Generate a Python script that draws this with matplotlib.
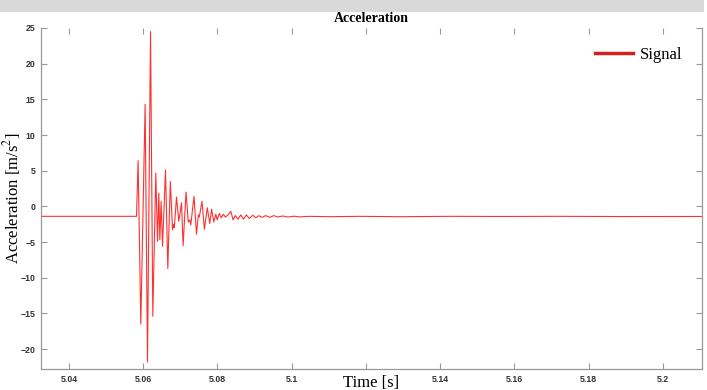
import matplotlib
matplotlib.use("Agg")
import matplotlib.pyplot as plt
from matplotlib.patches import Rectangle

plt.rcParams["mathtext.fontset"] = "stix"

# Data (time [s], acceleration [m/s^2])
time_s = [5.0325, 5.05642, 5.05822, 5.05865, 5.05938, 5.06054, 5.06118, 5.06199,
          5.06261, 5.06342, 5.06388, 5.06423, 5.06450, 5.06485, 5.06523, 5.06603,
          5.06665, 5.06733, 5.06792, 5.06819, 5.06840, 5.06899, 5.06961, 5.07034,
          5.07077, 5.07155, 5.07217, 5.07257, 5.07284, 5.07370, 5.07437, 5.07486,
          5.07513, 5.07585, 5.07650, 5.07728, 5.07795, 5.07844, 5.07903, 5.07957,
          5.07997, 5.08051, 5.08105, 5.08159, 5.08213, 5.08280, 5.08361, 5.08423,
          5.08482, 5.08557, 5.08630, 5.08703, 5.08778, 5.08859, 5.08953, 5.09034,
          5.09114, 5.09195, 5.09303, 5.09410, 5.09518, 5.09626, 5.09760, 5.09895,
          5.10056, 5.10218, 5.10487, 5.11026, 5.11833, 5.12910, 5.14256, 5.15602,
          5.17217, 5.18832, 5.2104]
accel = [-1.40, -1.40, -1.40, 6.4, -16.5, 14.3, -21.8, 24.5,
         -15.4, 4.65, -4.9, 1.85, -4.7, 0.7, -5.6, 5.1,
         -8.7, 3.5, -3.3, -2.5, -3.0, 1.3, -2.1, 0.5,
         -5.5, 2.0, -2.2, -1.9, -2.6, 1.4, -3.9, -1.2,
         -1.5, 0.7, -3.2, -0.2, -2.4, -0.4, -2.2, -1.1,
         -1.9, -1.0, -1.6, -1.1, -1.5, -1.25, -0.7, -1.9,
         -1.3, -1.8, -1.2, -1.8, -1.2, -1.7, -1.25, -1.6,
         -1.3, -1.55, -1.3, -1.55, -1.3, -1.5, -1.35, -1.5,
         -1.38, -1.48, -1.4, -1.45, -1.4, -1.45, -1.4, -1.42,
         -1.4, -1.43, -1.42]

xticks = [5.04, 5.06, 5.08, 5.10, 5.12, 5.14, 5.16, 5.18, 5.20]
xtick_labels = ["5.04", "5.06", "5.08", "5.1", "5.12", "5.14", "5.16", "5.18", "5.2"]
yticks = [-20, -15, -10, -5, 0, 5, 10, 15, 20, 25]

W, H = 707, 390
fig = plt.figure(figsize=(W / 100, H / 100), dpi=100)
fig.patches.append(Rectangle((0, 1 - 12 / H), 704 / W, 12 / H, transform=fig.transFigure,
                             facecolor="#d9d9d9", edgecolor="none", zorder=0))

ax = fig.add_axes([41 / W, 1 - 369 / H, (702 - 41) / W, (369 - 28) / H])
line, = ax.plot(time_s, accel, color="#ff3030", lw=0.8, label="Signal")

ax.set_xlim(5.0325, 5.2105)
ax.set_ylim(-22.8, 25.0)
ax.set_xticks(xticks)
ax.set_xticklabels(xtick_labels)
ax.set_yticks(yticks)

for s in ["left", "bottom", "right"]:
    ax.spines[s].set_color("#999999")
    ax.spines[s].set_linewidth(0.9)
ax.spines["top"].set_visible(False)
ax.tick_params(direction="in", length=4.5, width=0.8, color="#999999",
               top=True, right=True, labelsize=6.3, labelcolor="#333333", pad=4)
for lab in ax.get_xticklabels() + ax.get_yticklabels():
    lab.set_fontweight("bold")
    lab.set_family("Liberation Sans")

ax.set_title("Acceleration", fontsize=10, fontweight="bold", family="Liberation Serif", pad=4)
ax.set_ylabel("Acceleration [m/s$^2$]", fontsize=12, family="Liberation Serif")
ax.yaxis.set_label_coords(-0.027, 0.5)
xl = ax.set_xlabel("Time [s]", fontsize=12, family="Liberation Serif")
ax.xaxis.set_label_coords(0.5, -0.04)
xl.set_verticalalignment("center")
xl.set_bbox(dict(facecolor="white", edgecolor="none", pad=0.3))

leg = ax.legend(loc="upper right", frameon=False, prop={"family": "Liberation Serif", "size": 12},
                handlelength=2.3, borderaxespad=0.75, handletextpad=0.45)
for h in leg.get_lines():
    h.set_linewidth(2.5)
    h.set_color("#d42020")

fig.savefig("out.png", dpi=100)
